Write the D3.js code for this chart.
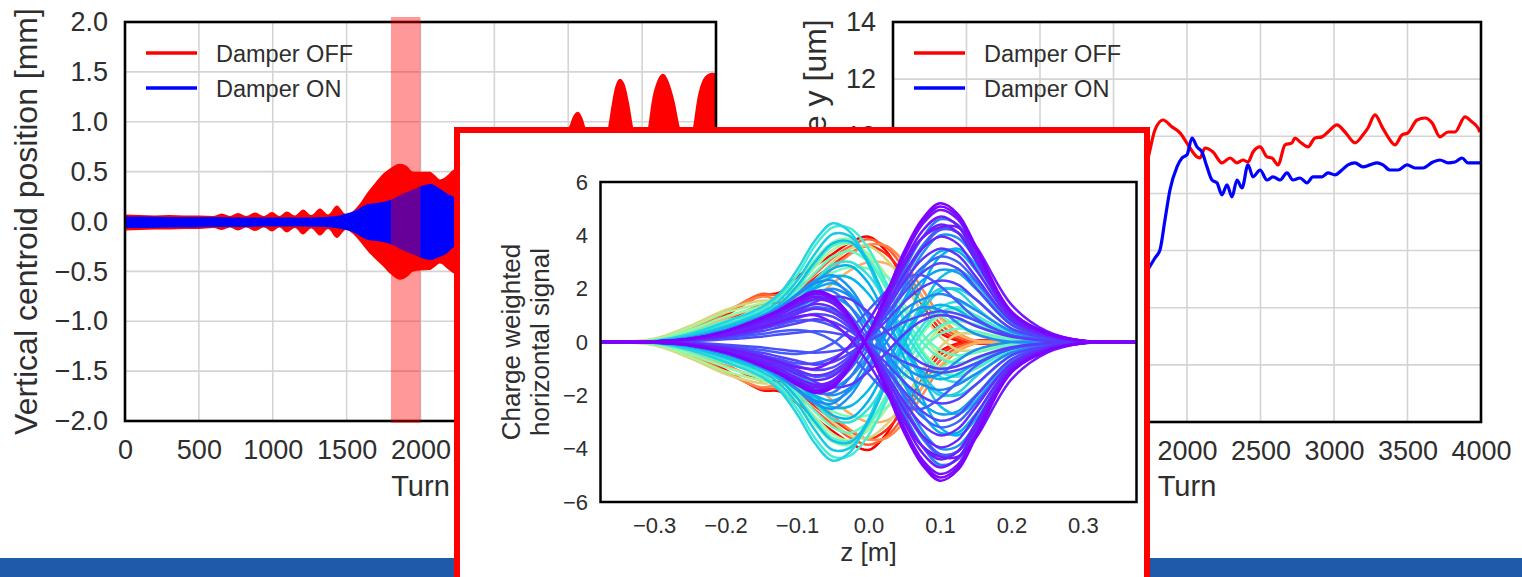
<!DOCTYPE html>
<html>
<head>
<meta charset="utf-8">
<script src="https://cdn.jsdelivr.net/npm/d3@7"></script>
<style>
  body { margin: 0; background: #fff; }
  svg text { font-family: "Liberation Sans", Arial, sans-serif; fill: #2e2e2e; }
</style>
</head>
<body>
<svg id="chart" width="1522" height="577"></svg>
<script>
/* Damper OFF / ON comparison slide, with a head-tail signal inset on top */

// LEFT PANEL: centroid envelope [mm] (the turn-by-turn oscillation looks like a filled band)
var offTurns = [0, 100, 200, 300, 400, 500, 600, 655, 710, 765, 820, 880, 940, 995, 1045, 1095, 1150, 1205, 1260, 1320, 1375, 1433, 1495, 1540, 1590, 1636, 1690, 1748, 1800, 1861, 1905, 1951, 2000, 2064, 2100, 2132, 2180, 2222, 2300, 2400, 2500, 2600, 2700, 2800, 2900, 2960, 3005, 3035, 3066, 3095, 3125, 3180, 3240, 3269, 3295, 3320, 3350, 3380, 3410, 3440, 3490, 3540, 3565, 3600, 3641, 3680, 3720, 3756, 3800, 3844, 3870, 3905, 3950, 3975, 4000];
var offUpper = [0.07, 0.065, 0.06, 0.065, 0.06, 0.06, 0.055, 0.08, 0.055, 0.085, 0.055, 0.09, 0.055, 0.095, 0.055, 0.1, 0.06, 0.12, 0.065, 0.13, 0.07, 0.16, 0.075, 0.1, 0.18, 0.28, 0.38, 0.48, 0.54, 0.58, 0.56, 0.5, 0.5, 0.5, 0.46, 0.42, 0.46, 0.52, 0.55, 0.6, 0.55, 0.58, 0.65, 0.7, 0.78, 0.88, 0.95, 1.06, 1.1, 1.04, 0.9, 0.72, 0.8, 0.94, 1.18, 1.36, 1.43, 1.38, 1.2, 0.94, 0.72, 0.94, 1.2, 1.4, 1.48, 1.4, 1.2, 0.94, 0.78, 0.94, 1.2, 1.4, 1.48, 1.49, 1.48];
var offLower = [-0.09, -0.085, -0.08, -0.08, -0.075, -0.075, -0.065, -0.085, -0.06, -0.09, -0.06, -0.095, -0.06, -0.1, -0.06, -0.11, -0.065, -0.13, -0.07, -0.14, -0.075, -0.165, -0.085, -0.12, -0.2, -0.285, -0.37, -0.45, -0.53, -0.585, -0.56, -0.5, -0.49, -0.485, -0.45, -0.42, -0.47, -0.52, -0.56, -0.6, -0.58, -0.6, -0.66, -0.72, -0.8, -0.9, -0.96, -1.05, -1.1, -1.02, -0.9, -0.74, -0.8, -0.95, -1.15, -1.33, -1.42, -1.37, -1.2, -0.95, -0.74, -0.96, -1.18, -1.38, -1.47, -1.4, -1.2, -0.95, -0.8, -0.96, -1.2, -1.4, -1.47, -1.48, -1.47];
var onTurns = [0, 150, 300, 450, 600, 800, 1000, 1200, 1350, 1450, 1500, 1560, 1636, 1726, 1805, 1882, 1950, 2017, 2064, 2120, 2178, 2222, 2400, 2700, 3000, 3500, 4000];
var onUpper = [0.05, 0.05, 0.045, 0.045, 0.045, 0.04, 0.04, 0.04, 0.045, 0.06, 0.08, 0.11, 0.17, 0.19, 0.22, 0.28, 0.32, 0.36, 0.375, 0.34, 0.28, 0.25, 0.18, 0.12, 0.09, 0.07, 0.06];
var onLower = [-0.065, -0.065, -0.06, -0.06, -0.055, -0.055, -0.05, -0.05, -0.055, -0.07, -0.085, -0.12, -0.18, -0.2, -0.23, -0.29, -0.33, -0.37, -0.385, -0.36, -0.32, -0.26, -0.19, -0.13, -0.1, -0.08, -0.07];
var highlightTurns = [1800, 2000];

// RIGHT PANEL: emittance y [um]
var emitOffTurns = [0, 400, 800, 1200, 1400, 1550, 1650, 1700, 1748, 1782, 1837, 1898, 1952, 2007, 2068, 2088, 2122, 2177, 2238, 2293, 2340, 2381, 2415, 2449, 2497, 2544, 2578, 2619, 2667, 2714, 2735, 2769, 2823, 2871, 2918, 2959, 3020, 3075, 3143, 3197, 3231, 3279, 3327, 3367, 3415, 3463, 3503, 3565, 3619, 3667, 3721, 3776, 3823, 3891, 3939, 3980, 3993];
var emitOffValues = [2.6, 2.6, 2.7, 3.0, 3.6, 5.0, 7.0, 8.3, 9.52, 10.22, 10.57, 10.33, 10.12, 9.7, 9.28, 9.24, 9.59, 9.45, 9.07, 9.24, 9.07, 9.17, 9.1, 9.45, 9.63, 9.28, 9.24, 9.0, 9.7, 9.77, 9.94, 9.8, 9.63, 9.94, 9.98, 10.15, 10.4, 10.15, 9.77, 10.05, 10.29, 10.75, 10.33, 9.98, 9.7, 10.05, 10.12, 10.57, 10.64, 10.47, 9.98, 10.15, 10.15, 10.68, 10.5, 10.29, 10.15];
var emitOnTurns = [0, 400, 800, 1200, 1400, 1550, 1650, 1720, 1782, 1816, 1850, 1884, 1932, 1966, 2000, 2034, 2068, 2102, 2136, 2170, 2204, 2238, 2272, 2306, 2340, 2374, 2415, 2449, 2497, 2544, 2585, 2633, 2680, 2721, 2769, 2816, 2857, 2918, 2959, 3007, 3054, 3095, 3143, 3197, 3245, 3293, 3333, 3381, 3435, 3497, 3551, 3605, 3673, 3721, 3776, 3823, 3871, 3912, 3993];
var emitOnValues = [2.6, 2.6, 2.7, 2.9, 3.2, 3.8, 4.5, 5.2, 5.74, 6.02, 7.07, 8.12, 8.93, 9.24, 9.35, 9.94, 9.63, 9.45, 8.93, 8.47, 8.37, 7.95, 8.3, 7.88, 8.47, 8.19, 9.0, 8.58, 8.82, 8.47, 8.58, 8.47, 8.72, 8.47, 8.54, 8.37, 8.58, 8.58, 8.72, 8.65, 8.82, 9.0, 9.07, 8.93, 9.0, 9.07, 9.0, 8.82, 8.82, 9.0, 8.89, 8.89, 9.1, 9.17, 9.07, 9.1, 9.24, 9.07, 9.07];

// INSET: charge weighted horizontal signal vs z [m], one row per recorded turn
var zGrid = [-0.375, -0.3, -0.25, -0.2, -0.15, -0.125, -0.1, -0.075, -0.05, -0.025, 0, 0.025, 0.05, 0.075, 0.1, 0.125, 0.15, 0.2, 0.25, 0.3, 0.375];
var signalShade = [1.0, 1.0, 0.95, 0.95, 0.88, 0.88, 0.82, 0.82, 0.76, 0.76,
                   0.68, 0.68, 0.6, 0.6, 0.53, 0.53, 0.48, 0.48,
                   0.38, 0.38, 0.32, 0.32, 0.28, 0.28, 0.35, 0.35, 0.25, 0.25,
                   0.2, 0.2, 0.16, 0.16, 0.13, 0.13, 0.18, 0.18, 0.11, 0.11,
                   0.08, 0.08, 0.06, 0.06, 0.04, 0.04, 0.02, 0.02, 0.0, 0.0, 0.1, 0.1,
                   0.42, 0.42, 0.3, 0.3, 0.24, 0.24, 0.22, 0.22, 0.14, 0.14,
                   0.09, 0.09, 0.03, 0.03, 0.01, 0.01, 0.45, 0.45, 0.05, 0.05,
                   0.07, 0.07, 0.12, 0.12, 0.19, 0.19, 0.03, 0.03, 0.26, 0.26];
var signals = [
  [0, 0.05, 0.35, 1.0, 1.75, 1.85, 2.45, 2.85, 3.3, 3.75, 3.95, 3.4, 2.3, 1.1, 0.35, 0.05, -0.05, -0.05, 0, 0, 0],
  [0, -0.05, -0.35, -1.05, -1.8, -1.85, -2.3, -2.85, -3.35, -3.8, -4.05, -3.45, -2.3, -1.1, -0.35, -0.05, 0.05, 0.05, 0, 0, 0],
  [0, 0.04, 0.3, 0.8, 1.4, 1.5, 1.9, 2.4, 2.9, 3.35, 3.6, 3.3, 2.5, 1.4, 0.5, 0.1, -0.05, -0.05, 0, 0, 0],
  [0, -0.04, -0.3, -0.85, -1.45, -1.5, -1.85, -2.4, -2.9, -3.35, -3.65, -3.3, -2.5, -1.4, -0.5, -0.1, 0.05, 0.05, 0, 0, 0],
  [0, 0.07, 0.45, 1.1, 1.8, 1.75, 2.0, 2.55, 3.15, 3.6, 3.85, 3.55, 2.75, 1.7, 0.7, 0.2, 0, -0.05, 0, 0, 0],
  [0, -0.07, -0.45, -1.1, -1.75, -1.75, -2.0, -2.55, -3.1, -3.6, -3.85, -3.55, -2.75, -1.7, -0.7, -0.2, 0, 0.05, 0, 0, 0],
  [0, 0.08, 0.5, 1.15, 1.7, 1.6, 1.65, 2.1, 2.75, 3.3, 3.65, 3.6, 3.0, 2.0, 1.0, 0.35, 0.05, -0.05, 0, 0, 0],
  [0, -0.08, -0.5, -1.15, -1.7, -1.6, -1.65, -2.1, -2.75, -3.3, -3.65, -3.6, -3.0, -2.0, -1.0, -0.35, -0.05, 0.05, 0, 0, 0],
  [0, 0.06, 0.4, 0.9, 1.3, 1.25, 1.3, 1.65, 2.2, 2.7, 3.0, 2.95, 2.5, 1.7, 0.9, 0.3, 0.05, 0, 0, 0, 0],
  [0, -0.06, -0.4, -0.9, -1.3, -1.25, -1.3, -1.65, -2.2, -2.7, -3.0, -2.95, -2.5, -1.7, -0.9, -0.3, -0.05, 0, 0, 0, 0],
  [0, 0.12, 0.6, 1.2, 1.55, 1.55, 1.75, 2.3, 3.0, 3.5, 3.6, 3.1, 2.2, 1.1, 0.2, -0.3, -0.3, -0.1, 0, 0, 0],
  [0, -0.12, -0.6, -1.2, -1.55, -1.55, -1.75, -2.3, -3.0, -3.5, -3.6, -3.1, -2.2, -1.1, -0.2, 0.3, 0.3, 0.1, 0, 0, 0],
  [0, 0.1, 0.55, 1.1, 1.45, 1.65, 2.1, 2.8, 3.45, 3.7, 3.3, 2.5, 1.4, 0.3, -0.5, -0.8, -0.6, -0.15, 0, 0, 0],
  [0, -0.1, -0.55, -1.1, -1.45, -1.65, -2.1, -2.8, -3.45, -3.7, -3.3, -2.5, -1.4, -0.3, 0.5, 0.8, 0.6, 0.15, 0, 0, 0],
  [0, 0.08, 0.45, 0.95, 1.35, 1.65, 2.3, 3.1, 3.75, 3.85, 3.2, 2.1, 0.8, -0.3, -1.0, -1.25, -0.95, -0.3, -0.05, 0, 0],
  [0, -0.08, -0.45, -0.95, -1.35, -1.65, -2.3, -3.1, -3.75, -3.85, -3.2, -2.1, -0.8, 0.3, 1.0, 1.25, 0.95, 0.3, 0.05, 0, 0],
  [0, 0.05, 0.3, 0.7, 0.95, 1.15, 1.55, 2.1, 2.6, 2.8, 2.75, 2.45, 2.0, 1.5, 1.0, 0.6, 0.3, 0.05, 0, 0, 0],
  [0, -0.05, -0.3, -0.7, -0.95, -1.15, -1.55, -2.1, -2.6, -2.8, -2.75, -2.45, -2.0, -1.5, -1.0, -0.6, -0.3, -0.05, 0, 0, 0],
  [0, 0.03, 0.25, 0.65, 1.2, 1.7, 2.5, 3.6, 4.3, 4.25, 3.5, 2.2, 0.8, -0.4, -1.1, -1.3, -1.0, -0.3, -0.05, 0, 0],
  [0, -0.03, -0.25, -0.65, -1.2, -1.7, -2.5, -3.6, -4.3, -4.25, -3.5, -2.2, -0.8, 0.4, 1.1, 1.3, 1.0, 0.3, 0.05, 0, 0],
  [0, 0.04, 0.3, 0.75, 1.3, 1.8, 2.7, 3.8, 4.45, 4.1, 2.9, 1.3, -0.2, -1.4, -2.0, -1.9, -1.3, -0.35, -0.05, 0, 0],
  [0, -0.04, -0.3, -0.75, -1.3, -1.8, -2.7, -3.8, -4.45, -4.1, -2.9, -1.3, 0.2, 1.4, 2.0, 1.9, 1.3, 0.35, 0.05, 0, 0],
  [0, 0.03, 0.2, 0.55, 1.0, 1.4, 2.1, 3.0, 3.7, 3.75, 2.95, 1.55, 0.1, -1.3, -2.4, -2.7, -2.2, -0.7, -0.15, 0, 0],
  [0, -0.03, -0.2, -0.55, -1.0, -1.4, -2.1, -3.0, -3.7, -3.75, -2.95, -1.55, -0.1, 1.3, 2.4, 2.7, 2.2, 0.7, 0.15, 0, 0],
  [0, 0.02, 0.15, 0.4, 0.8, 1.1, 1.6, 2.3, 2.9, 3.0, 2.5, 1.5, 0.4, -0.6, -1.3, -1.5, -1.2, -0.4, -0.1, 0, 0],
  [0, -0.02, -0.15, -0.4, -0.8, -1.1, -1.6, -2.3, -2.9, -3.0, -2.5, -1.5, -0.4, 0.6, 1.3, 1.5, 1.2, 0.4, 0.1, 0, 0],
  [0, 0.02, 0.12, 0.35, 0.7, 1.0, 1.5, 2.2, 2.75, 2.85, 2.2, 0.9, -0.6, -2.1, -3.2, -3.5, -2.9, -1.0, -0.25, -0.03, 0],
  [0, -0.02, -0.12, -0.35, -0.7, -1.0, -1.5, -2.2, -2.75, -2.85, -2.2, -0.9, 0.6, 2.1, 3.2, 3.5, 2.9, 1.0, 0.25, 0.03, 0],
  [0, 0.02, 0.15, 0.45, 0.95, 1.3, 1.8, 2.3, 2.5, 2.0, 0.9, -0.6, -2.1, -3.3, -4.0, -3.9, -3.1, -1.0, -0.25, -0.03, 0],
  [0, -0.02, -0.15, -0.45, -0.95, -1.3, -1.8, -2.3, -2.5, -2.0, -0.9, 0.6, 2.1, 3.3, 4.0, 3.9, 3.1, 1.0, 0.25, 0.03, 0],
  [0, 0.02, 0.12, 0.4, 0.85, 1.2, 1.6, 1.9, 1.9, 1.3, 0.2, -1.2, -2.7, -3.9, -4.6, -4.4, -3.4, -1.1, -0.3, -0.04, 0],
  [0, -0.02, -0.12, -0.4, -0.85, -1.2, -1.6, -1.9, -1.9, -1.3, -0.2, 1.2, 2.7, 3.9, 4.6, 4.4, 3.4, 1.1, 0.3, 0.04, 0],
  [0, 0.01, 0.1, 0.3, 0.6, 0.85, 1.1, 1.3, 1.2, 0.7, -0.1, -1.0, -2.0, -2.8, -3.2, -3.0, -2.3, -0.8, -0.2, -0.03, 0],
  [0, -0.01, -0.1, -0.3, -0.6, -0.85, -1.1, -1.3, -1.2, -0.7, 0.1, 1.0, 2.0, 2.8, 3.2, 3.0, 2.3, 0.8, 0.2, 0.03, 0],
  [0, 0.02, 0.15, 0.45, 0.9, 1.25, 1.75, 2.2, 2.3, 1.7, 0.6, -0.4, -1.2, -1.6, -1.8, -1.6, -1.2, -0.4, -0.1, 0, 0],
  [0, -0.02, -0.15, -0.45, -0.9, -1.25, -1.75, -2.2, -2.3, -1.7, -0.6, 0.4, 1.2, 1.6, 1.8, 1.6, 1.2, 0.4, 0.1, 0, 0],
  [0, 0.01, 0.08, 0.25, 0.5, 0.65, 0.8, 0.8, 0.6, 0.2, -0.4, -1.3, -2.4, -3.5, -4.2, -4.1, -3.2, -1.0, -0.25, -0.03, 0],
  [0, -0.01, -0.08, -0.25, -0.5, -0.65, -0.8, -0.8, -0.6, -0.2, 0.4, 1.3, 2.4, 3.5, 4.2, 4.1, 3.2, 1.0, 0.25, 0.03, 0],
  [0, 0.01, 0.05, 0.18, 0.4, 0.55, 0.7, 0.85, 0.75, 0.4, -0.15, -0.8, -1.5, -2.05, -2.3, -2.15, -1.6, -0.5, -0.15, -0.02, 0],
  [0, -0.01, -0.05, -0.18, -0.4, -0.55, -0.7, -0.85, -0.75, -0.4, 0.15, 0.8, 1.5, 2.05, 2.3, 2.15, 1.6, 0.5, 0.15, 0.02, 0],
  [0, 0.01, 0.08, 0.27, 0.6, 0.8, 1.05, 1.25, 1.1, 0.6, -0.2, -1.2, -2.25, -3.1, -3.5, -3.25, -2.45, -0.8, -0.22, -0.03, 0],
  [0, -0.01, -0.08, -0.27, -0.6, -0.8, -1.05, -1.25, -1.1, -0.6, 0.2, 1.2, 2.25, 3.1, 3.5, 3.25, 2.45, 0.8, 0.22, 0.03, 0],
  [0, 0.02, 0.1, 0.35, 0.75, 1.0, 1.35, 1.6, 1.45, 0.75, -0.25, -1.5, -2.85, -3.9, -4.4, -4.1, -3.05, -1.0, -0.3, -0.04, 0],
  [0, -0.02, -0.1, -0.35, -0.75, -1.0, -1.35, -1.6, -1.45, -0.75, 0.25, 1.5, 2.85, 3.9, 4.4, 4.1, 3.05, 1.0, 0.3, 0.04, 0],
  [0, 0.02, 0.12, 0.4, 0.85, 1.15, 1.5, 1.8, 1.6, 0.85, -0.3, -1.7, -3.2, -4.4, -4.95, -4.6, -3.45, -1.1, -0.3, -0.04, 0],
  [0, -0.02, -0.12, -0.4, -0.85, -1.15, -1.5, -1.8, -1.6, -0.85, 0.3, 1.7, 3.2, 4.4, 4.95, 4.6, 3.45, 1.1, 0.3, 0.04, 0],
  [0, 0.02, 0.12, 0.4, 0.9, 1.2, 1.6, 1.9, 1.7, 0.9, -0.3, -1.8, -3.4, -4.6, -5.2, -4.8, -3.6, -1.15, -0.35, -0.05, 0],
  [0, -0.02, -0.12, -0.4, -0.9, -1.2, -1.6, -1.9, -1.7, -0.9, 0.3, 1.8, 3.4, 4.6, 5.2, 4.8, 3.6, 1.15, 0.35, 0.05, 0],
  [0, 0.01, 0.03, 0.1, 0.2, 0.28, 0.35, 0.4, 0.35, 0.2, -0.05, -0.4, -0.75, -1.0, -1.15, -1.05, -0.8, -0.25, -0.07, -0.01, 0],
  [0, -0.01, -0.03, -0.1, -0.2, -0.28, -0.35, -0.4, -0.35, -0.2, 0.05, 0.4, 0.75, 1.0, 1.15, 1.05, 0.8, 0.25, 0.07, 0.01, 0],
  [0, 0.03, 0.2, 0.5, 0.95, 1.35, 2.0, 2.9, 3.6, 3.7, 3.1, 2.0, 0.9, 0.0, -0.6, -0.8, -0.65, -0.2, -0.03, 0, 0],
  [0, -0.03, -0.2, -0.5, -0.95, -1.35, -2.0, -2.9, -3.6, -3.7, -3.1, -2.0, -0.9, 0.0, 0.6, 0.8, 0.65, 0.2, 0.03, 0, 0],
  [0, 0.03, 0.22, 0.6, 1.1, 1.55, 2.3, 3.3, 4.05, 3.95, 3.0, 1.5, 0.0, -1.2, -1.9, -2.0, -1.6, -0.5, -0.1, 0, 0],
  [0, -0.03, -0.22, -0.6, -1.1, -1.55, -2.3, -3.3, -4.05, -3.95, -3.0, -1.5, 0.0, 1.2, 1.9, 2.0, 1.6, 0.5, 0.1, 0, 0],
  [0, 0.02, 0.15, 0.4, 0.8, 1.1, 1.55, 2.0, 2.2, 1.8, 0.9, -0.3, -1.6, -2.7, -3.4, -3.4, -2.7, -0.9, -0.2, -0.03, 0],
  [0, -0.02, -0.15, -0.4, -0.8, -1.1, -1.55, -2.0, -2.2, -1.8, -0.9, 0.3, 1.6, 2.7, 3.4, 3.4, 2.7, 0.9, 0.2, 0.03, 0],
  [0, 0.01, 0.1, 0.3, 0.65, 0.9, 1.25, 1.6, 1.7, 1.3, 0.5, -0.5, -1.5, -2.3, -2.7, -2.6, -2.0, -0.65, -0.15, -0.02, 0],
  [0, -0.01, -0.1, -0.3, -0.65, -0.9, -1.25, -1.6, -1.7, -1.3, -0.5, 0.5, 1.5, 2.3, 2.7, 2.6, 2.0, 0.65, 0.15, 0.02, 0],
  [0, 0.02, 0.12, 0.38, 0.8, 1.1, 1.45, 1.7, 1.6, 1.0, 0.0, -1.2, -2.5, -3.6, -4.25, -4.1, -3.2, -1.05, -0.28, -0.04, 0],
  [0, -0.02, -0.12, -0.38, -0.8, -1.1, -1.45, -1.7, -1.6, -1.0, 0.0, 1.2, 2.5, 3.6, 4.25, 4.1, 3.2, 1.05, 0.28, 0.04, 0],
  [0, 0.01, 0.07, 0.22, 0.5, 0.68, 0.9, 1.05, 0.95, 0.5, -0.2, -1.0, -1.85, -2.6, -2.95, -2.75, -2.05, -0.65, -0.18, -0.02, 0],
  [0, -0.01, -0.07, -0.22, -0.5, -0.68, -0.9, -1.05, -0.95, -0.5, 0.2, 1.0, 1.85, 2.6, 2.95, 2.75, 2.05, 0.65, 0.18, 0.02, 0],
  [0, 0.02, 0.11, 0.38, 0.8, 1.1, 1.45, 1.7, 1.5, 0.8, -0.28, -1.6, -3.0, -4.15, -4.7, -4.35, -3.25, -1.05, -0.3, -0.04, 0],
  [0, -0.02, -0.11, -0.38, -0.8, -1.1, -1.45, -1.7, -1.5, -0.8, 0.28, 1.6, 3.0, 4.15, 4.7, 4.35, 3.25, 1.05, 0.3, 0.04, 0],
  [0, 0.02, 0.12, 0.4, 0.88, 1.18, 1.55, 1.85, 1.65, 0.88, -0.3, -1.75, -3.3, -4.5, -5.08, -4.7, -3.52, -1.12, -0.32, -0.05, 0],
  [0, -0.02, -0.12, -0.4, -0.88, -1.18, -1.55, -1.85, -1.65, -0.88, 0.3, 1.75, 3.3, 4.5, 5.08, 4.7, 3.52, 1.12, 0.32, 0.05, 0],
  [0, 0.06, 0.35, 0.8, 1.15, 1.4, 1.9, 2.6, 3.2, 3.4, 3.0, 2.2, 1.2, 0.3, -0.3, -0.5, -0.4, -0.1, 0, 0, 0],
  [0, -0.06, -0.35, -0.8, -1.15, -1.4, -1.9, -2.6, -3.2, -3.4, -3.0, -2.2, -1.2, -0.3, 0.3, 0.5, 0.4, 0.1, 0, 0, 0],
  [0, 0.01, 0.09, 0.3, 0.68, 0.9, 1.2, 1.42, 1.28, 0.68, -0.22, -1.35, -2.55, -3.5, -3.95, -3.68, -2.75, -0.9, -0.26, -0.03, 0],
  [0, -0.01, -0.09, -0.3, -0.68, -0.9, -1.2, -1.42, -1.28, -0.68, 0.22, 1.35, 2.55, 3.5, 3.95, 3.68, 2.75, 0.9, 0.26, 0.03, 0],
  [0, 0.01, 0.06, 0.2, 0.5, 0.75, 1.1, 1.5, 1.7, 1.6, 1.1, 0.4, -0.3, -0.8, -1.0, -0.9, -0.6, -0.2, -0.05, 0, 0],
  [0, -0.01, -0.06, -0.2, -0.5, -0.75, -1.1, -1.5, -1.7, -1.6, -1.1, -0.4, 0.3, 0.8, 1.0, 0.9, 0.6, 0.2, 0.05, 0, 0],
  [0, 0.01, 0.05, 0.15, 0.3, 0.4, 0.45, 0.35, 0.05, -0.5, -1.2, -1.9, -2.4, -2.5, -2.1, -1.5, -0.9, -0.25, -0.05, 0, 0],
  [0, -0.01, -0.05, -0.15, -0.3, -0.4, -0.45, -0.35, -0.05, 0.5, 1.2, 1.9, 2.4, 2.5, 2.1, 1.5, 0.9, 0.25, 0.05, 0, 0],
  [0, 0.02, 0.1, 0.3, 0.7, 1.0, 1.4, 1.8, 2.0, 1.7, 1.0, 0.0, -0.9, -1.3, -1.2, -0.7, -0.3, 0, 0, 0, 0],
  [0, -0.02, -0.1, -0.3, -0.7, -1.0, -1.4, -1.8, -2.0, -1.7, -1.0, 0.0, 0.9, 1.3, 1.2, 0.7, 0.3, 0, 0, 0, 0],
  [0, 0.01, 0.08, 0.25, 0.55, 0.75, 0.95, 1.0, 0.7, 0.1, -0.8, -1.9, -3.0, -3.9, -4.3, -4.3, -3.6, -1.4, -0.4, -0.05, 0],
  [0, -0.01, -0.08, -0.25, -0.55, -0.75, -0.95, -1.0, -0.7, -0.1, 0.8, 1.9, 3.0, 3.9, 4.3, 4.3, 3.6, 1.4, 0.4, 0.05, 0],
  [0, 0.02, 0.12, 0.35, 0.75, 1.05, 1.5, 2.05, 2.45, 2.4, 1.8, 0.8, -0.3, -1.1, -1.4, -1.2, -0.8, -0.25, -0.05, 0, 0],
  [0, -0.02, -0.12, -0.35, -0.75, -1.05, -1.5, -2.05, -2.45, -2.4, -1.8, -0.8, 0.3, 1.1, 1.4, 1.2, 0.8, 0.25, 0.05, 0, 0]
];

// TICKS AND LABELS (only the ones not hidden by the inset)
var leftTurnTicks = [0, 500, 1000, 1500, 2000];
var rightTurnTicks = [2000, 2500, 3000, 3500, 4000];
var gridTurns = [500, 1000, 1500, 2000, 2500, 3000, 3500];
var centroidTicks = [-2, -1.5, -1, -0.5, 0, 0.5, 1, 1.5, 2];
var emitTicks = [10, 12, 14];
var emitGrid = [2, 4, 6, 8, 10, 12];
var zTicks = [-0.3, -0.2, -0.1, 0, 0.1, 0.2, 0.3];
var signalTicks = [-6, -4, -2, 0, 2, 4, 6];
var legendLabels = ["Damper OFF", "Damper ON"];
var legendColors = ["#ff0000", "#0000ff"];

var gridColor = "#d4d4d4";
var svg = d3.select("#chart");

// slide footer strip
svg.append("rect").attr("x", 0).attr("y", 558).attr("width", 1522).attr("height", 19).attr("fill", "#1e5aa8");

function drawGrid(g, x, y, xg, yg) {
  var xr = x.range(), yr = y.range();
  g.append("g").selectAll("line").data(xg).enter().append("line")
    .attr("x1", function(d) { return x(d); }).attr("x2", function(d) { return x(d); })
    .attr("y1", yr[1]).attr("y2", yr[0])
    .attr("stroke", gridColor).attr("stroke-width", 1.6);
  g.append("g").selectAll("line").data(yg).enter().append("line")
    .attr("y1", function(d) { return y(d); }).attr("y2", function(d) { return y(d); })
    .attr("x1", xr[0]).attr("x2", xr[1])
    .attr("stroke", gridColor).attr("stroke-width", 1.6);
}

function drawAxes(g, x, y, xt, yt, xFmt, yFmt, fs, padX, padY) {
  var ax = g.append("g").attr("transform", "translate(0," + y.range()[0] + ")")
    .call(d3.axisBottom(x).tickValues(xt).tickSize(0).tickPadding(padX).tickFormat(d3.format(xFmt)));
  ax.attr("font-size", fs);
  ax.select(".domain").remove();
  var ay = g.append("g").attr("transform", "translate(" + x.range()[0] + ",0)")
    .call(d3.axisLeft(y).tickValues(yt).tickSize(0).tickPadding(padY).tickFormat(d3.format(yFmt)));
  ay.attr("font-size", fs);
  ay.select(".domain").remove();
}

function drawFrame(g, x, y, w) {
  var xr = x.range(), yr = y.range();
  g.append("rect").attr("x", xr[0]).attr("y", yr[1])
    .attr("width", xr[1] - xr[0]).attr("height", yr[0] - yr[1])
    .attr("fill", "none").attr("stroke", "#000").attr("stroke-width", w);
}

function drawLegend(g, x0) {
  legendLabels.forEach(function(lab, i) {
    var yy = 53 + i * 35;
    g.append("line").attr("x1", x0).attr("x2", x0 + 51).attr("y1", yy).attr("y2", yy)
      .attr("stroke", legendColors[i]).attr("stroke-width", 3.6);
    g.append("text").attr("x", x0 + 70).attr("y", yy + 8.5).attr("font-size", 23.5).text(lab);
  });
}

// ---------------- LEFT PANEL ----------------
var xL = d3.scaleLinear().domain([0, 4000]).range([125, 716]);
var yL = d3.scaleLinear().domain([-2, 2]).range([421, 22]);
var left = svg.append("g");
drawGrid(left, xL, yL, gridTurns, centroidTicks.slice(1, -1));

var offData = offTurns.map(function(t, i) { return { t: t, hi: offUpper[i], lo: offLower[i] }; });
var onData = onTurns.map(function(t, i) { return { t: t, hi: onUpper[i], lo: onLower[i] }; });
var band = d3.area()
  .x(function(d) { return xL(d.t); })
  .y0(function(d) { return yL(d.lo); })
  .y1(function(d) { return yL(d.hi); })
  .curve(d3.curveMonotoneX);
left.append("path").datum(offData).attr("d", band).attr("fill", legendColors[0]);
left.append("path").datum(onData).attr("d", band).attr("fill", legendColors[1]);

drawAxes(left, xL, yL, leftTurnTicks, centroidTicks, "d", ".1f", 27, 18.5, 17);
drawFrame(left, xL, yL, 2.6);
drawLegend(left, 146);

left.append("text").attr("x", (xL.range()[0] + xL.range()[1]) / 2).attr("y", 496)
  .attr("text-anchor", "middle").attr("font-size", 29).text("Turn");
left.append("text").attr("transform", "translate(37,221.5) rotate(-90)")
  .attr("text-anchor", "middle").attr("font-size", 32).text("Vertical centroid position [mm]");

// highlighted turns (drawn over the data and frame)
left.append("rect").attr("x", xL(highlightTurns[0])).attr("y", 17)
  .attr("width", xL(highlightTurns[1]) - xL(highlightTurns[0])).attr("height", 406)
  .attr("fill", "#ff0000").attr("fill-opacity", 0.4);

// ---------------- RIGHT PANEL ----------------
var xR = d3.scaleLinear().domain([0, 4000]).range([893, 1481]);
var yR = d3.scaleLinear().domain([0, 14]).range([422, 22]);
var right = svg.append("g");
drawGrid(right, xR, yR, gridTurns, emitGrid);

var emitLine = d3.line()
  .x(function(d) { return xR(d[0]); })
  .y(function(d) { return yR(d[1]); })
  .curve(d3.curveMonotoneX);
right.append("path").datum(d3.zip(emitOffTurns, emitOffValues)).attr("d", emitLine)
  .attr("fill", "none").attr("stroke", legendColors[0]).attr("stroke-width", 3.2).attr("stroke-linejoin", "round");
right.append("path").datum(d3.zip(emitOnTurns, emitOnValues)).attr("d", emitLine)
  .attr("fill", "none").attr("stroke", legendColors[1]).attr("stroke-width", 3.2).attr("stroke-linejoin", "round");

drawAxes(right, xR, yR, rightTurnTicks, emitTicks, "d", "d", 27, 18.5, 17);
drawFrame(right, xR, yR, 2.6);
drawLegend(right, 914);

right.append("text").attr("x", (xR.range()[0] + xR.range()[1]) / 2).attr("y", 496)
  .attr("text-anchor", "middle").attr("font-size", 29).text("Turn");
right.append("text").attr("transform", "translate(826,222) rotate(-90)")
  .attr("text-anchor", "middle").attr("font-size", 32).text("Normalized emittance y [um]");

// ---------------- INSET ----------------
var inset = svg.append("g");
inset.append("rect").attr("x", 457).attr("y", 130).attr("width", 690).attr("height", 480)
  .attr("fill", "#fff").attr("stroke", "#ff0000").attr("stroke-width", 6);

var xI = d3.scaleLinear().domain([-0.375, 0.375]).range([600.5, 1136.5]);
var yI = d3.scaleLinear().domain([-6, 6]).range([502, 182]);
var shade = d3.scaleLinear()
  .domain([0, 0.125, 0.25, 0.375, 0.5, 0.625, 0.75, 0.875, 1])
  .range(["#8000ff", "#4062fa", "#00b4ec", "#40ecd4", "#80ffb4", "#bfec8e", "#ffb462", "#ff6232", "#ff0000"]);

var sigLine = d3.line()
  .x(function(d, i) { return xI(zGrid[i]); })
  .y(function(d) { return yI(d); })
  .curve(d3.curveCatmullRom.alpha(0.5));

// early turns (red) first, late turns (purple) on top
var drawOrder = d3.range(signals.length).sort(function(a, b) { return signalShade[b] - signalShade[a]; });
inset.append("g").selectAll("path").data(drawOrder).enter().append("path")
  .attr("d", function(k) { return sigLine(signals[k]); })
  .attr("fill", "none")
  .attr("stroke", function(k) { return shade(signalShade[k]); })
  .attr("stroke-width", 2.5);

drawAxes(inset, xI, yI, zTicks, signalTicks, ".1f", "d", 22, 15.5, 12.5);
drawFrame(inset, xI, yI, 2.5);

inset.append("text").attr("x", (xI.range()[0] + xI.range()[1]) / 2).attr("y", 561)
  .attr("text-anchor", "middle").attr("font-size", 26).text("z [m]");
inset.append("text").attr("transform", "translate(520,342) rotate(-90)")
  .attr("text-anchor", "middle").attr("font-size", 26).text("Charge weighted");
inset.append("text").attr("transform", "translate(549,342) rotate(-90)")
  .attr("text-anchor", "middle").attr("font-size", 26).text("horizontal signal");
</script>
</body>
</html>
